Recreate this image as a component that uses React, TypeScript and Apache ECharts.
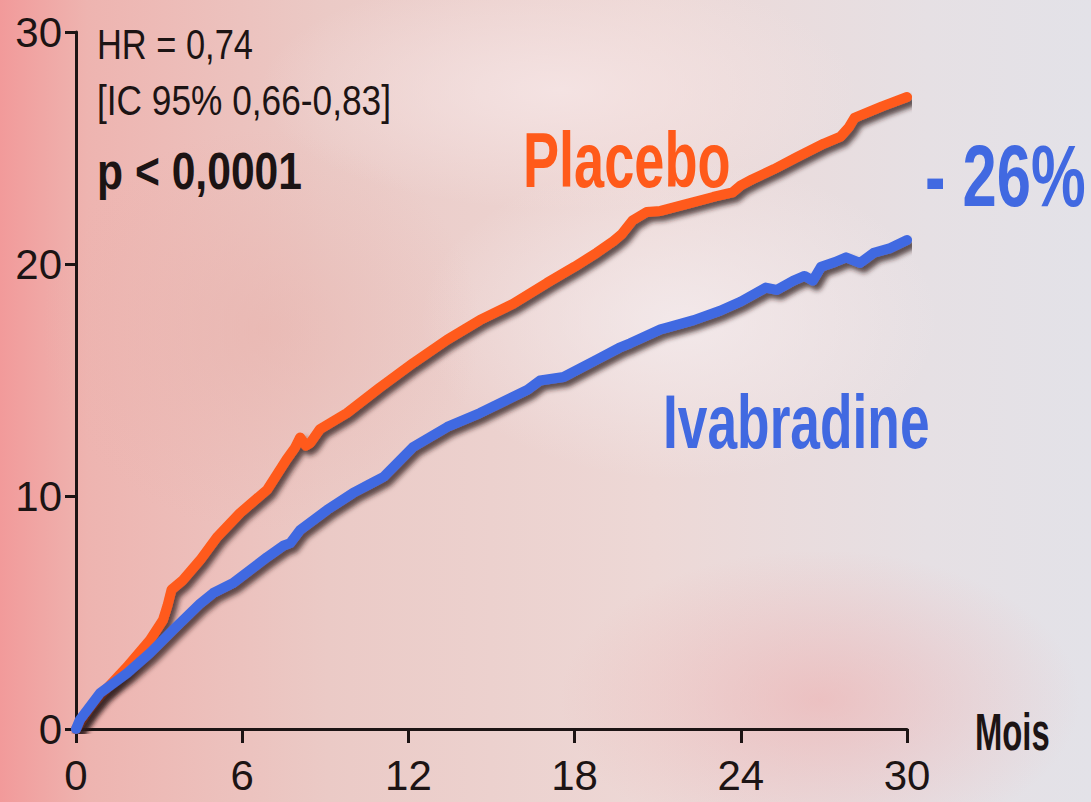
import React, { useEffect, useRef } from "react";
import * as echarts from "echarts";

// Months of follow-up and cumulative event rate (%)
const placeboMonths = [0, 0.5, 1.0, 1.84, 2.67, 3.14, 3.3, 3.45, 3.86, 4.48, 5.09, 5.92, 6.9, 7.6, 7.9, 8.09, 8.3, 8.45, 8.8, 9.78, 10.97, 12.17, 13.39, 14.58, 15.78, 17.0, 18.0, 18.8, 19.4, 19.7, 20.1, 20.6, 21.1, 22.06, 23.0, 23.7, 24.0, 24.4, 25.2, 26.0, 27.0, 27.6, 27.9, 28.1, 29.1, 30.0];
const placeboRates = [0, 0.9, 1.6, 2.67, 3.83, 4.69, 5.3, 6.0, 6.41, 7.27, 8.26, 9.3, 10.3, 11.6, 12.1, 12.55, 12.2, 12.3, 12.9, 13.6, 14.7, 15.75, 16.75, 17.6, 18.3, 19.2, 19.9, 20.5, 21.0, 21.3, 21.9, 22.25, 22.3, 22.6, 22.9, 23.1, 23.4, 23.65, 24.1, 24.6, 25.2, 25.5, 25.9, 26.3, 26.8, 27.2];

const ivabradineMonths = [0, 0.14, 0.87, 1.84, 2.67, 3.5, 4.48, 4.95, 5.67, 6.9, 7.5, 7.73, 8.09, 9.06, 10.0, 10.7, 11.1, 12.17, 13.4, 14.58, 15.78, 16.3, 16.75, 17.6, 18.8, 19.6, 20.0, 21.1, 21.4, 22.3, 23.25, 24.0, 24.9, 25.3, 25.9, 26.3, 26.6, 26.9, 27.4, 27.8, 28.3, 28.8, 29.4, 30.0];
const ivabradineRates = [0, 0.4, 1.55, 2.4, 3.27, 4.26, 5.4, 5.85, 6.28, 7.4, 7.9, 8.0, 8.57, 9.43, 10.16, 10.6, 10.85, 12.14, 13.0, 13.6, 14.3, 14.6, 15.0, 15.15, 15.9, 16.4, 16.6, 17.2, 17.3, 17.6, 18.0, 18.4, 19.0, 18.9, 19.3, 19.5, 19.3, 19.9, 20.1, 20.3, 20.06, 20.5, 20.7, 21.05];

const xTicks = [0, 6, 12, 18, 24, 30];
const yTicks = [0, 10, 20, 30];

const statsLines = ["HR = 0,74", "[IC 95% 0,66-0,83]", "p < 0,0001"];
const placeboName = "Placebo";
const ivabradineName = "Ivabradine";
const reductionLabel = "- 26%";
const xAxisName = "Mois";

const ORANGE = "#ff5a1a";
const BLUE = "#4169e1";
const DARK = "#1c1414";
const FONT = '"Liberation Sans", Arial, sans-serif';
const NARROW = 0.82;

export default function App() {
  const ref = useRef<HTMLDivElement>(null);

  useEffect(() => {
    document.body.style.margin = "0";
    if (!ref.current) return;
    const chart = echarts.init(ref.current, undefined, { renderer: "svg" });

    const placeboData = placeboMonths.map((m, i) => [m, placeboRates[i]]);
    const ivaData = ivabradineMonths.map((m, i) => [m, ivabradineRates[i]]);

    const shadow = {
      shadowColor: "rgba(45,30,30,0.75)",
      shadowBlur: 5,
      shadowOffsetX: 4,
      shadowOffsetY: 5,
    };

    const text = (
      t: string,
      x: number,
      y: number,
      size: number,
      weight: string,
      color: string,
      scaleY: number
    ) => ({
      type: "text",
      x,
      y,
      scaleX: NARROW,
      scaleY,
      z: 100,
      silent: true,
      style: {
        text: t,
        font: `${weight} ${size}px ${FONT}`,
        fill: color,
        align: "left",
        verticalAlign: "middle",
      },
    });

    chart.setOption({
      animation: false,
      graphic: [
        {
          type: "rect",
          z: -100,
          silent: true,
          shape: { x: 0, y: 0, width: 1091, height: 802 },
          style: {
            fill: new echarts.graphic.LinearGradient(0, 0, 1, 0, [
              { offset: 0, color: "#f29a9a" },
              { offset: 0.08, color: "#eeb4b0" },
              { offset: 0.3, color: "#ebcac6" },
              { offset: 0.6, color: "#edd8d6" },
              { offset: 0.85, color: "#e6e0e4" },
              { offset: 1, color: "#e3e2e8" },
            ]),
          },
        },
        {
          type: "ellipse",
          z: -99,
          silent: true,
          shape: { cx: 560, cy: 90, rx: 300, ry: 120 },
          style: {
            fill: new echarts.graphic.RadialGradient(0.5, 0.5, 0.5, [
              { offset: 0, color: "rgba(245,228,228,0.9)" },
              { offset: 1, color: "rgba(245,228,228,0)" },
            ]),
          },
        },
        {
          type: "ellipse",
          z: -99,
          silent: true,
          shape: { cx: 680, cy: 320, rx: 260, ry: 160 },
          style: {
            fill: new echarts.graphic.RadialGradient(0.5, 0.5, 0.5, [
              { offset: 0, color: "rgba(244,236,238,0.8)" },
              { offset: 1, color: "rgba(244,236,238,0)" },
            ]),
          },
        },
        {
          type: "ellipse",
          z: -99,
          silent: true,
          shape: { cx: 820, cy: 700, rx: 260, ry: 150 },
          style: {
            fill: new echarts.graphic.RadialGradient(0.5, 0.5, 0.5, [
              { offset: 0, color: "rgba(238,170,170,0.55)" },
              { offset: 1, color: "rgba(238,170,170,0)" },
            ]),
          },
        },
        {
          type: "ellipse",
          z: -99,
          silent: true,
          shape: { cx: 260, cy: 330, rx: 220, ry: 200 },
          style: {
            fill: new echarts.graphic.RadialGradient(0.5, 0.5, 0.5, [
              { offset: 0, color: "rgba(232,178,172,0.55)" },
              { offset: 1, color: "rgba(232,178,172,0)" },
            ]),
          },
        },
        text(statsLines[0], 97, 44, 42, "normal", DARK, 1.0),
        text(statsLines[1], 97, 100, 43, "normal", DARK, 1.0),
        text(statsLines[2], 97, 171, 52, "bold", DARK, 1.0),
        text(placeboName, 523, 160, 66, "bold", ORANGE, 1.17),
        text(reductionLabel, 925, 176, 75, "bold", BLUE, 1.15),
        text(ivabradineName, 663, 421, 65, "bold", BLUE, 1.18),
        text(xAxisName, 975, 732, 40, "bold", DARK, 1.28),
      ],
      grid: { left: 76, right: 184, top: 32, bottom: 73, containLabel: false },
      xAxis: {
        type: "value",
        min: xTicks[0],
        max: xTicks[xTicks.length - 1],
        interval: 6,
        axisLine: { show: true, lineStyle: { color: DARK, width: 3 } },
        axisTick: { show: true, length: 14, lineStyle: { color: DARK, width: 3 } },
        splitLine: { show: false },
        axisLabel: {
          margin: 25,
          color: DARK,
          fontFamily: FONT,
          fontSize: 42,
          customValues: xTicks,
        },
      },
      yAxis: {
        type: "value",
        min: yTicks[0],
        max: yTicks[yTicks.length - 1],
        interval: 10,
        axisLine: { show: true, lineStyle: { color: DARK, width: 3 } },
        axisTick: { show: true, length: 11, lineStyle: { color: DARK, width: 3 } },
        splitLine: { show: false },
        axisLabel: {
          margin: 14,
          color: DARK,
          fontFamily: FONT,
          fontSize: 42,
        },
      },
      series: [
        {
          name: placeboName,
          type: "line",
          data: placeboData,
          showSymbol: false,
          z: 3,
          lineStyle: { color: ORANGE, width: 10, cap: "round", join: "round", ...shadow },
        },
        {
          name: ivabradineName,
          type: "line",
          data: ivaData,
          showSymbol: false,
          z: 4,
          lineStyle: { color: BLUE, width: 10, cap: "round", join: "round", ...shadow },
        },
      ],
    });

    return () => chart.dispose();
  }, []);

  return <div ref={ref} style={{ width: 1091, height: 802 }} />;
}
